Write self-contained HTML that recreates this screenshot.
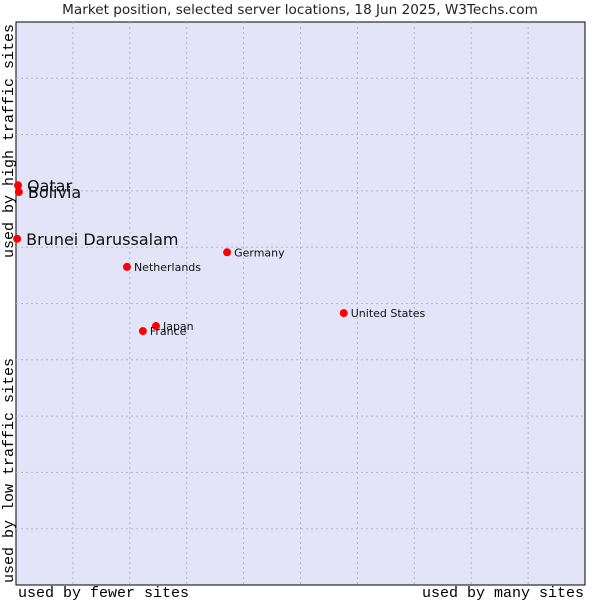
<!DOCTYPE html>
<html><head><meta charset="utf-8"><style>
body{margin:0;background:#fff;}
svg{display:block;}
</style></head><body>
<svg id="chart" width="600" height="600" xmlns="http://www.w3.org/2000/svg">
<text x="300" y="14" text-anchor="middle" font-family="DejaVu Sans, sans-serif" font-size="13.6" fill="#222">Market position, selected server locations, 18 Jun 2025, W3Techs.com</text>
<rect x="16" y="22" width="569" height="563" fill="#e3e4f8" stroke="#000" stroke-width="1"/>
<g id="grid"></g>
<g id="marks"></g>
<text x="18" y="597" font-family="Liberation Mono, monospace" font-size="15" fill="#000">used by fewer sites</text>
<text x="584" y="597" text-anchor="end" font-family="Liberation Mono, monospace" font-size="15" fill="#000">used by many sites</text>
<text transform="translate(13,24) rotate(-90)" text-anchor="end" font-family="Liberation Mono, monospace" font-size="15" fill="#000">used by high traffic sites</text>
<text transform="translate(13,583) rotate(-90)" font-family="Liberation Mono, monospace" font-size="15" fill="#000">used by low traffic sites</text>
</svg>
<script>
const countries = ["Qatar","Bolivia","Brunei Darussalam","Netherlands","Germany","United States","Japan","France"];
const reach = [0.35,0.5,0.2,19.5,37.1,57.6,24.6,22.3];
const traffic = [71.0,69.8,61.5,56.5,59.1,48.3,46.0,45.1];
const bigLabel = [true,true,true,false,false,false,false,false];
const NS="http://www.w3.org/2000/svg";
const X0=16,X1=585,Y0=585,Y1=22;
function xs(v){return X0+v/100*(X1-X0);}
function ys(v){return Y0-v/100*(Y0-Y1);}
const grid=document.getElementById('grid');
for(let i=1;i<10;i++){
  const lx=document.createElementNS(NS,'line');
  
  
  lx.setAttribute('x1',xs(i*10));lx.setAttribute('x2',xs(i*10));
  lx.setAttribute('y1',Y1);lx.setAttribute('y2',Y0);
  lx.setAttribute('stroke','#b4b4c0');lx.setAttribute('stroke-dasharray','2,3');
  grid.appendChild(lx);
  const ly=document.createElementNS(NS,'line');
  
  
  ly.setAttribute('x1',X0);ly.setAttribute('x2',X1);
  ly.setAttribute('y1',ys(i*10));ly.setAttribute('y2',ys(i*10));
  ly.setAttribute('stroke','#b4b4c0');ly.setAttribute('stroke-dasharray','2,3');
  grid.appendChild(ly);
}
const marks=document.getElementById('marks');
countries.forEach((c,i)=>{
  const x=xs(reach[i]),y=ys(traffic[i]);
  const p=document.createElementNS(NS,'circle');
  
  
  p.setAttribute('cx',x);p.setAttribute('cy',y);p.setAttribute('r',4);
  p.setAttribute('fill','#f00');
  marks.appendChild(p);
  const t=document.createElementNS(NS,'text');
  
  
  t.setAttribute('x',x+(bigLabel[i]?9:7));
  t.setAttribute('y',y+(bigLabel[i]?6:4));
  t.setAttribute('font-family','DejaVu Sans, sans-serif');
  t.setAttribute('font-size',bigLabel[i]?16:11);
  t.setAttribute('fill','#111');
  t.textContent=c;
  marks.appendChild(t);
});
</script>
</body></html>
